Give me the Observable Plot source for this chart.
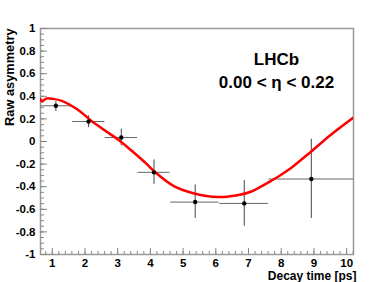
<!DOCTYPE html>
<html>
<head>
<meta charset="utf-8">
<script src="https://cdn.jsdelivr.net/npm/d3@7"></script>
<script src="https://cdn.jsdelivr.net/npm/@observablehq/plot@0.6"></script>
<style>
  html, body { margin: 0; padding: 0; background: #fff; }
  #chart { width: 392px; height: 282px; }
</style>
</head>
<body>
<div id="chart"></div>
<script>
// Data points (binned raw asymmetry)
const binCenter = [1.11, 2.11, 3.11, 4.11, 5.37, 6.87, 8.92];
const binLow    = [0.60, 1.62, 2.62, 3.62, 4.62, 6.12, 7.62];
const binHigh   = [1.60, 2.61, 3.61, 4.60, 6.10, 7.61, 10.5];
const asym      = [0.316, 0.177, 0.035, -0.273, -0.536, -0.548, -0.332];
const asymLow   = [0.266, 0.123, -0.039, -0.379, -0.681, -0.750, -0.681];
const asymHigh  = [0.352, 0.227, 0.109, -0.163, -0.385, -0.344, 0.020];

// Fit curve
const fitT = [0.64, 0.68, 0.75, 0.83, 1.0, 1.29, 1.75, 2.26, 2.7, 3.07, 3.5, 3.89, 4.11, 4.72, 5.34, 6.05, 6.66, 7.07, 7.38, 7.68, 7.94, 8.30, 8.91, 9.52, 10.21];
const fitA = [0.375, 0.355, 0.368, 0.381, 0.378, 0.36, 0.287, 0.168, 0.08, 0.005, -0.1, -0.2, -0.262, -0.395, -0.46, -0.492, -0.475, -0.445, -0.40, -0.35, -0.305, -0.235, -0.09, 0.06, 0.212];

// Axis ticks
const xMajor = [1, 2, 3, 4, 5, 6, 7, 8, 9, 10];
const xMinor = d3.range(0.8, 10.21, 0.2).map(v => +v.toFixed(1));
const yMajor = [-1, -0.8, -0.6, -0.4, -0.2, 0, 0.2, 0.4, 0.6, 0.8, 1];
const yMinor = d3.range(-1, 1.001, 0.05).map(v => +v.toFixed(2));

const points = binCenter.map((x, i) => ({x, y: asym[i], x1: binLow[i], x2: binHigh[i], y1: asymLow[i], y2: asymHigh[i]}));
const fit = fitT.map((t, i) => ({t, a: fitA[i]}));

const font = "'Liberation Sans', Arial, Helvetica, sans-serif";
const fmt = d => String(+(+d).toFixed(2));

const chart = Plot.plot({
  width: 392,
  height: 282,
  marginLeft: 40,
  marginRight: 39,
  marginTop: 28,
  marginBottom: 28,
  style: {fontFamily: font, background: "#fff"},
  x: {domain: [0.64, 10.21]},
  y: {domain: [-1, 1]},
  marks: [
    Plot.frame({stroke: "#999", strokeWidth: 1.5}),
    // y axis
    Plot.axisY(yMajor, {anchor: "left", tickSize: 0, tickPadding: 5, tickFormat: fmt, fontSize: 11.5, fontWeight: "bold", fill: "#000", label: null}),
    Plot.axisY(yMajor, {anchor: "left", tickSize: -7, text: null, stroke: "#888", label: null}),
    Plot.axisY(yMinor, {anchor: "left", tickSize: -4, text: null, stroke: "#888", label: null}),
    // x axis
    Plot.axisX(xMajor, {anchor: "bottom", tickSize: 0, tickPadding: 4, tickFormat: fmt, fontSize: 11.5, fontWeight: "bold", fill: "#000", label: null}),
    Plot.axisX(xMajor, {anchor: "bottom", tickSize: -6, text: null, stroke: "#888", label: null}),
    Plot.axisX(xMinor, {anchor: "bottom", tickSize: -3, text: null, stroke: "#888", label: null}),
    // error bars
    Plot.ruleY(points, {y: "y", x1: "x1", x2: "x2", stroke: "#666", strokeWidth: 1, clip: true}),
    Plot.ruleX(points, {x: "x", y1: "y1", y2: "y2", stroke: "#444", strokeWidth: 1, clip: true}),
    // fit curve
    Plot.line(fit, {x: "t", y: "a", stroke: "#ff0000", strokeWidth: 2.5, curve: "catmull-rom", clip: true}),
    Plot.dot(points, {x: "x", y: "y", r: 2.2, fill: "#000", stroke: null}),
    // texts
    Plot.text(["Raw asymmetry"], {frameAnchor: "top-left", rotate: -90, textAnchor: "end", lineAnchor: "middle", dx: -31, dy: 0, fontSize: 12.8, fontWeight: "bold", fill: "#000"}),
    Plot.text(["Decay time [ps]"], {frameAnchor: "bottom-right", textAnchor: "end", lineAnchor: "middle", dx: 3, dy: 21.5, fontSize: 12, fontWeight: "bold", fill: "#000"}),
    Plot.text(["LHCb"], {frameAnchor: "top-left", textAnchor: "middle", lineAnchor: "middle", dx: 236, dy: 31, fontSize: 17, fontWeight: "bold", fill: "#000"}),
    Plot.text(["0.00 < η < 0.22"], {frameAnchor: "top-left", textAnchor: "middle", lineAnchor: "middle", dx: 236, dy: 54, fontSize: 17, fontWeight: "bold", fill: "#000"})
  ]
});
document.getElementById("chart").appendChild(chart);
</script>
</body>
</html>
